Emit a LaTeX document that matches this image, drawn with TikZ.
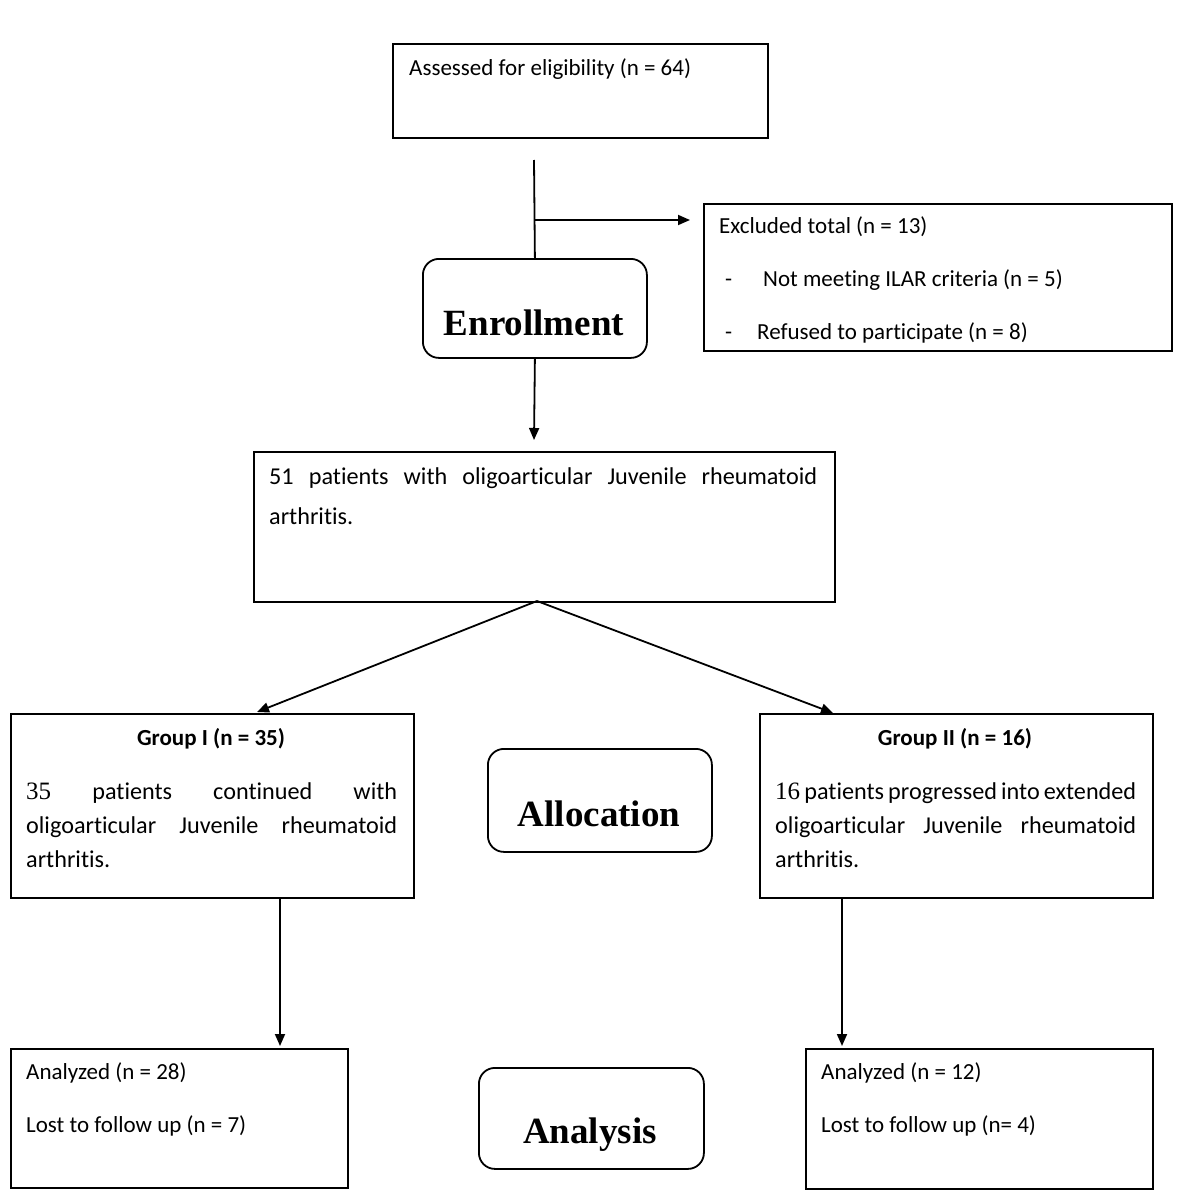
\documentclass[tikz,border=0pt]{standalone}
\usepackage{fontspec}
\setmainfont{Carlito}[Ligatures=NoCommon]
\newfontfamily\tnr{Liberation Serif}
\usetikzlibrary{arrows.meta}
\begin{document}
\begin{tikzpicture}[x=1pt,y=-1pt,
 box/.style={draw, line width=1.8pt, anchor=north west, inner sep=0pt},
 rbox/.style={draw, line width=1.8pt, rounded corners=16pt, anchor=north west, inner sep=0pt},
 txt/.style={anchor=base west, inner sep=0pt, font=\fontsize{23}{26}\selectfont},
 body/.style={anchor=base west, inner sep=0pt, font=\fontsize{24.2}{28}\selectfont},
 hdr/.style={anchor=base, inner sep=0pt, font=\bfseries\fontsize{23}{26}\selectfont},
 ttl/.style={anchor=base, inner sep=0pt, font=\tnr\bfseries\fontsize{37}{40}\selectfont},
 line/.style={line width=1.8pt},
 arr/.style={line width=1.8pt, -{Triangle[length=12pt,width=10pt]}}]

\useasboundingbox[fill=white] (0,0) rectangle (1181,1199);

% Enrollment
\node[box, minimum width=375pt, minimum height=94pt] (assess) at (392,43) {};
\node[txt] (assesst) at (409,75) {Assessed for eligibility (n = 64)};

\node[rbox, minimum width=224pt, minimum height=99pt] (enr) at (422,258) {};
\node[ttl] (enrt) at (534,335) {Enrollment};

\node[box, minimum width=468pt, minimum height=147pt] (excl) at (703,203) {};
\node[txt] (ex0) at (719,233) {Excluded total (n = 13)};
\node[txt] (ex1d) at (725,286) {-};
\node[txt] (ex1) at (763,286) {Not meeting ILAR criteria (n = 5)};
\node[txt] (ex2d) at (725,339) {-};
\node[txt] (ex2) at (757,339) {Refused to participate (n = 8)};

\coordinate (vtop) at (534,160);
\coordinate (br) at (534,220);
\coordinate (brend) at (690,220);
\coordinate (a51) at (534,440);
\draw[line] (vtop) -- (enr.north);
\draw[arr] (br) -- (brend);
\draw[arr] (enr.south) -- (a51);

\node[box, minimum width=581pt, minimum height=150pt] (b51) at (253,451) {};
\node[body] (b51a) at (269,484) {\makebox[548pt][s]{51 patients with oligoarticular Juvenile rheumatoid}};
\node[body] (b51b) at (269,524) {arthritis.};

% Allocation
\coordinate (sp) at (537,601);
\coordinate (g1tip) at (257,712);
\coordinate (g2tip) at (833,713);
\draw[arr] (sp) -- (g1tip);
\draw[arr] (sp) -- (g2tip);

\node[box, minimum width=403pt, minimum height=184pt] (g1) at (10,713) {};
\node[hdr] (g1h) at (211,745) {Group I (n = 35)};
\node[body] (g1a) at (26,799) {\makebox[371pt][s]{{\tnr\fontsize{25}{28}\selectfont 35} patients continued with}};
\node[body] (g1b) at (26,833) {\makebox[371pt][s]{oligoarticular Juvenile rheumatoid}};
\node[body] (g1c) at (26,867) {arthritis.};

\node[rbox, minimum width=224pt, minimum height=103pt] (alloc) at (487,748) {};
\node[ttl] (alloct) at (599,826) {Allocation};

\node[box, minimum width=393pt, minimum height=184pt] (g2) at (759,713) {};
\node[hdr] (g2h) at (955,745) {Group II (n = 16)};
\node[body] (g2a) at (775,799) {\makebox[361pt][s]{{\tnr\fontsize{25}{28}\selectfont 16} patients progressed into extended}};
\node[body] (g2b) at (775,833) {\makebox[361pt][s]{oligoarticular Juvenile rheumatoid}};
\node[body] (g2c) at (775,867) {arthritis.};

% Analysis
\coordinate (d1s) at (280,897);
\coordinate (d1e) at (280,1046);
\coordinate (d2s) at (842,897);
\coordinate (d2e) at (842,1046);
\draw[arr] (d1s) -- (d1e);
\draw[arr] (d2s) -- (d2e);

\node[box, minimum width=337pt, minimum height=139pt] (an1) at (10,1048) {};
\node[txt] (an1a) at (26,1079) {Analyzed (n = 28)};
\node[txt] (an1b) at (26,1132) {Lost to follow up (n = 7)};

\node[rbox, minimum width=225pt, minimum height=101pt] (anal) at (478,1067) {};
\node[ttl] (analt) at (590,1143) {Analysis};

\node[box, minimum width=347pt, minimum height=140pt] (an2) at (805,1048) {};
\node[txt] (an2a) at (821,1079) {Analyzed (n = 12)};
\node[txt] (an2b) at (821,1132) {Lost to follow up (n= 4)};
\end{tikzpicture}
\end{document}
